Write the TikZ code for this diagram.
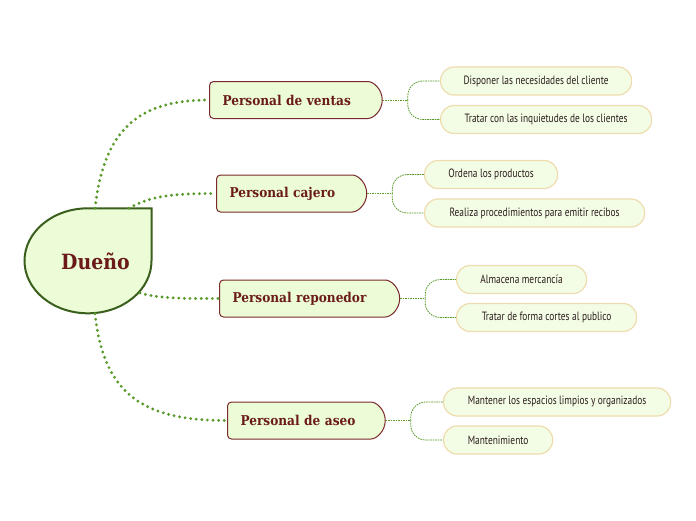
\documentclass[tikz,border=0pt]{standalone}
\usepackage{fontspec}
\usetikzlibrary{shapes.misc,shapes.geometric,backgrounds,calc}
\newfontfamily\ramofont[FakeStretch=0.9]{DejaVu Serif}
\newfontfamily\leaffont[FakeStretch=0.78]{PT Sans}
\definecolor{duenoline}{HTML}{3A5E1C}
\definecolor{boxfill}{HTML}{EBFCD7}
\definecolor{boxline}{HTML}{7A2A2A}
\definecolor{boxtext}{HTML}{6B1A1A}
\definecolor{leaffill}{HTML}{F3FDE6}
\definecolor{leafline}{HTML}{EFDCAE}
\definecolor{leaftext}{HTML}{2B1B1B}
\definecolor{linkgreen}{HTML}{5A9A2A}
\tikzset{
  ramo/.style={rounded rectangle, rounded rectangle west arc=none, rounded corners=4pt,
    draw=boxline, fill=boxfill, line width=1pt, minimum height=37, inner xsep=13pt,
    align=left, anchor=west, text=boxtext, font=\ramofont\bfseries\fontsize{13.5}{16}\selectfont},
  hoja/.style={rectangle, rounded corners=13.5pt, draw=leafline, fill=leaffill, line width=1.2pt,
    minimum height=28, anchor=west, text=leaftext, font=\leaffont\fontsize{12}{14}\selectfont},
  gruesa/.style={draw=linkgreen, line width=3.2pt, line cap=round, dash pattern=on 0pt off 5.6pt},
  fina/.style={draw=linkgreen, line width=0.8pt, dash pattern=on 1.6pt off 0.9pt, rounded corners=15pt}
}
\begin{document}
\begin{tikzpicture}[x=1pt, y=-1pt]

  %% ════ 画布 ════
  \path[use as bounding box] (0,0) rectangle (696,520);

  %% ════ 中心节点（水滴形，右上角为直角）════
  \node[ellipse, minimum width=127, minimum height=105, inner sep=0pt,
        text=boxtext, font=\ramofont\bfseries\fontsize{21}{25}\selectfont] (dueno) at (88,261) {\hspace*{15pt}Dueño};
  \begin{scope}[on background layer]
    \draw[draw=duenoline, fill=boxfill, line width=2pt]
      (dueno.north -| dueno.east) -- (dueno.north)
      arc[start angle=270, end angle=0, x radius=63.5, y radius=52.5] -- cycle;
  \end{scope}

  %% ════ 二级节点（text width = 宽 - 26）════
  \node[ramo, text width=146] (ventas)    at (209,100)   {Personal de ventas};
  \node[ramo, text width=123] (cajero)    at (216,193.5) {Personal cajero};
  \node[ramo, text width=153] (reponedor) at (219,298.5) {Personal reponedor};
  \node[ramo, text width=131] (aseo)      at (227,420.5) {Personal de aseo};

  %% ════ 叶节点 ════
  \node[hoja, minimum width=191] (disponer)   at (440,81)    {Disponer las necesidades del cliente};
  \node[hoja, minimum width=211] (inquietud)  at (440,119.5) {Tratar con las inquietudes de los clientes};
  \node[hoja, minimum width=133] (ordena)     at (424,174.5) {Ordena los productos};
  \node[hoja, minimum width=220] (recibos)    at (424,213)   {Realiza procedimientos para emitir recibos};
  \node[hoja, minimum width=130] (almacena)   at (456,279.5) {Almacena mercancía};
  \node[hoja, minimum width=180] (cortes)     at (456,317.5) {Tratar de forma cortes al publico};
  \node[hoja, minimum width=227] (espacios)   at (443,402)   {Mantener los espacios limpios y organizados};
  \node[hoja, minimum width=109] (manten)     at (443,440)   {Mantenimiento};

  %% ════ 中心 → 二级（粗点线）════
  \draw[gruesa] ($(dueno.north)+(7,0)$) .. controls (104,128) and (140,100) .. (ventas.west);
  \draw[gruesa] ($(dueno.north)+(41,0)$) .. controls (150,196) and (172,193.5) .. (cajero.west);
  \draw[gruesa] (140,293) .. controls (160,299) and (190,298.5) .. (reponedor.west);
  \draw[gruesa] ($(dueno.south)+(7,0)$) .. controls (104,400) and (150,420.5) .. (aseo.west);

  %% ════ 二级 → 叶（细虚线，分叉）════
  \foreach \ramo/\arriba/\abajo in {ventas/disponer/inquietud, cajero/ordena/recibos,
                                    reponedor/almacena/cortes, aseo/espacios/manten}{
    \draw[fina] (\ramo.east) -- ++(25,0) coordinate (split-\ramo);
    \draw[fina] (split-\ramo) |- (\arriba.west);
    \draw[fina] (split-\ramo) |- (\abajo.west);
  }
\end{tikzpicture}
\end{document}
